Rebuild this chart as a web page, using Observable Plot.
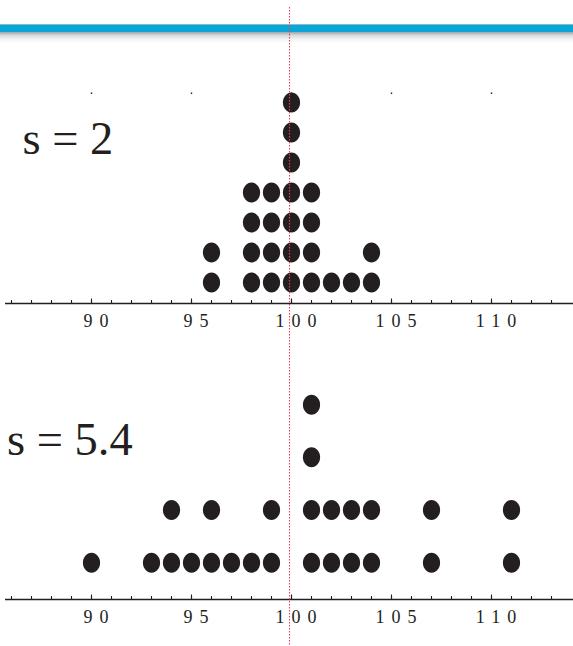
<!DOCTYPE html>
<html>
<head>
<meta charset="utf-8">
<script src="https://cdn.jsdelivr.net/npm/d3@7"></script>
<script src="https://cdn.jsdelivr.net/npm/@observablehq/plot@0.6"></script>
<style>
  body { margin: 0; background: #fff; }
  #chart { position: relative; width: 573px; height: 646px; overflow: hidden; background: #fff; }
  #chart .band {
    position: absolute; left: 0; top: 0; width: 573px; height: 44px;
    background: linear-gradient(to bottom,
      #fff 0px, #fff 23.5px, #c4c8cb 24px, #0aa6d6 25.5px, #0aa6d6 31.5px,
      #a9adb0 32.5px, #d9dbdd 35.5px, #f1f2f3 39px, #fff 43px);
  }
  #chart svg { position: absolute; left: 0; }
  #chart g[aria-label="x-axis tick label"] {
    letter-spacing: 7px;
    font-size: 18px;
    font-family: "Liberation Serif", "Times New Roman", serif;
  }
</style>
</head>
<body>
<div id="chart"><div class="band"></div></div>
<script>
// Observations for the two samples (each dot is one value)
const sampleNarrow = [96, 96, 98, 98, 98, 98, 99, 99, 99, 99,
  100, 100, 100, 100, 100, 100, 100, 101, 101, 101, 101, 102, 103, 104, 104];
const sampleWide = [90, 93, 94, 94, 95, 96, 96, 97, 98, 99, 99,
  101, 101, 101, 101, 102, 102, 103, 103, 104, 104, 107, 107, 111, 111];
const labelNarrow = "s = 2";
const labelWide = "s = 5.4";

// Axis ticks
const majorTicks = [90, 95, 100, 105, 110];
const minorTicks = [86, 87, 88, 89, 90, 91, 92, 93, 94, 95, 96, 97, 98, 99, 100,
  101, 102, 103, 104, 105, 106, 107, 108, 109, 110, 111, 112, 113];
const xDomain = [85.8, 114];
const referenceValue = 99.9;
const baseLevel = 0.3;

const ink = "#231f20";
const serif = "Liberation Serif, Times New Roman, serif";

// Slightly tall ellipse used for every dot
const ellipse = {
  draw(context, size) {
    const ry = Math.sqrt(size / Math.PI), rx = ry * 0.86, k = 0.5523;
    context.moveTo(rx, 0);
    context.bezierCurveTo(rx, k * ry, k * rx, ry, 0, ry);
    context.bezierCurveTo(-k * rx, ry, -rx, k * ry, -rx, 0);
    context.bezierCurveTo(-rx, -k * ry, -k * rx, -ry, 0, -ry);
    context.bezierCurveTo(k * rx, -ry, rx, -k * ry, rx, 0);
    context.closePath();
  }
};

function dotPanel({values, label, height, marginTop, marginBottom, yTop, ruleTop, labelDx, labelDy, topTicks}) {
  const marks = [
    Plot.ruleY([baseLevel], {stroke: ink, strokeWidth: 1.3, insetRight: -2, insetLeft: -2}),
    Plot.axisX({ticks: minorTicks, tickSize: -3, fill: "none", stroke: ink, strokeWidth: 1.1}),
    Plot.axisX({ticks: majorTicks, tickSize: -4.5, fill: "none", stroke: ink, strokeWidth: 1.1}),
    Plot.axisX({ticks: majorTicks, tickSize: 0, tickPadding: 11, fontSize: 18, fontFamily: serif,
      fill: ink, dx: 8, tickFormat: d => String(d)}),
    Plot.dot(values, Plot.stackY2({x: d => d, symbol: ellipse, r: 10, fill: ink, stroke: "none"})),
    Plot.text([label], {text: d => d, frameAnchor: "top-left", textAnchor: "start", lineAnchor: "middle",
      dx: labelDx, dy: labelDy, fontSize: 46.5, fontFamily: serif, fill: ink}),
    Plot.ruleX([referenceValue], {stroke: "#e8415f", strokeWidth: 1.1, strokeDasharray: "1.4 1.6",
      insetTop: -(marginTop - ruleTop), insetBottom: -marginBottom})
  ];
  if (topTicks) {
    marks.splice(1, 0, Plot.axisX({anchor: "top", ticks: majorTicks, tickSize: 1.5, fill: "none",
      stroke: ink, strokeWidth: 1.4}));
  }
  return Plot.plot({
    width: 573,
    height,
    marginLeft: 7,
    marginRight: 2,
    marginTop,
    marginBottom,
    style: {background: "transparent", overflow: "visible"},
    x: {domain: xDomain},
    y: {domain: [baseLevel, yTop], axis: null},
    marks
  });
}

const chart = document.getElementById("chart");

const upper = dotPanel({
  values: sampleNarrow, label: labelNarrow,
  height: 340, marginTop: 93, marginBottom: 37, yTop: 7.3, ruleTop: 7,
  labelDx: 15, labelDy: 45.5, topTicks: true
});
upper.style.top = "0px";
chart.appendChild(upper);

const lower = dotPanel({
  values: sampleWide, label: labelWide,
  height: 306, marginTop: 22, marginBottom: 47, yTop: 4.8, ruleTop: 0,
  labelDx: -0.5, labelDy: 77.5, topTicks: false
});
lower.style.top = "340px";
chart.appendChild(lower);
</script>
</body>
</html>
